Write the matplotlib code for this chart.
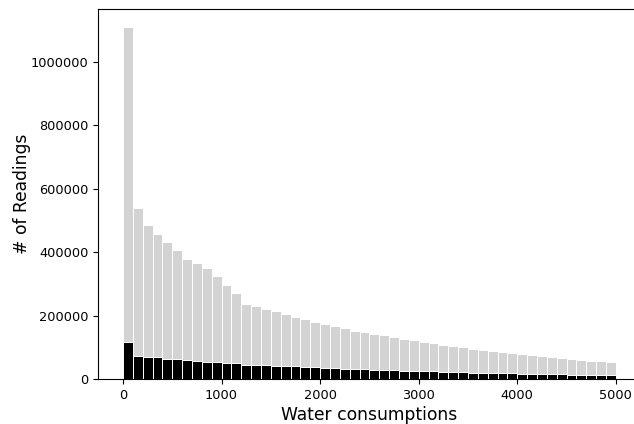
import matplotlib
matplotlib.use("Agg")
import matplotlib.pyplot as plt
import numpy as np

bin_edges = list(range(0, 5000, 100))

all_readings = [
    1110000, 541000, 485000, 458000, 434000, 407000, 380000, 367000, 352000, 324000,
    296000, 271000, 238000, 229600, 221000, 214500, 205000, 196000, 189500, 180000,
    174000, 167600, 162000, 153500, 149200, 144000, 138000, 132000, 126000, 123000,
    117300, 113200, 107000, 103800, 100600, 95300, 92100, 89000, 85800, 82700,
    79600, 76400, 73300, 70100, 67000, 63800, 60700, 57500, 57000, 54400,
]

subset_readings = [
    116400, 74000, 71000, 71000, 64800, 64800, 61600, 58500, 55300, 53000,
    50000, 50000, 46500, 46500, 44000, 40900, 40900, 40900, 37700, 37700,
    34600, 34600, 31400, 31400, 31400, 28300, 28300, 28300, 25200, 25200,
    25200, 25200, 22000, 22000, 22000, 18900, 18900, 18900, 18900, 18900,
    15700, 15700, 15700, 15700, 15700, 12600, 14000, 12600, 12600, 12600,
]

fig = plt.figure(figsize=(6.34, 4.24), dpi=100)
ax = fig.add_axes([98.3 / 634, (424 - 379.3) / 424, (640.5 - 98.3) / 634, (379.3 - 9.3) / 424])

ax.bar(bin_edges, all_readings, width=100, align="edge", color="lightgray",
       edgecolor="white", linewidth=0.7)
ax.bar(bin_edges, subset_readings, width=100, align="edge", color="black",
       edgecolor="white", linewidth=0.7)

ax.set_xticks([0, 1000, 2000, 3000, 4000, 5000])
ax.set_yticks([0, 200000, 400000, 600000, 800000, 1000000])
ax.ticklabel_format(axis="y", style="plain", useOffset=False)
ax.tick_params(labelsize=9.3)
ax.spines["right"].set_visible(False)
ax.set_xlabel("Water consumptions", fontsize=12.3, labelpad=3)
ax.set_ylabel("# of Readings", fontsize=12.3, labelpad=0)

fig.savefig("out.png", dpi=100)
